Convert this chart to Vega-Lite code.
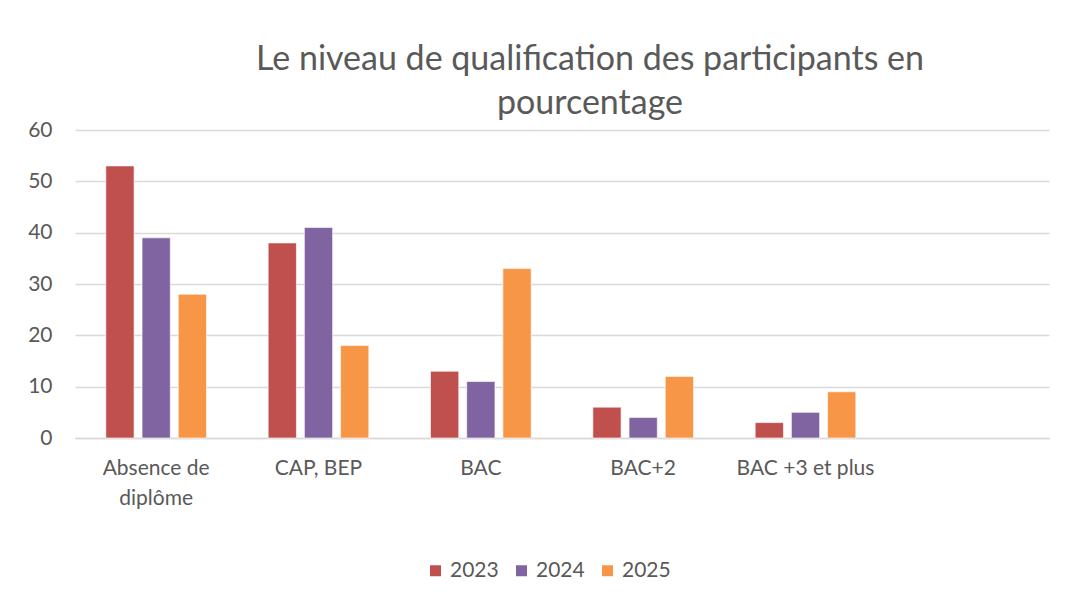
{
  "$schema": "https://vega.github.io/schema/vega-lite/v6.json",
  "autosize": "none",
  "width": 974,
  "height": 308,
  "padding": {"left": 75, "top": 130, "right": 19, "bottom": 163},
  "background": "white",
  "title": {
    "text": ["Le niveau de qualification des participants en", "pourcentage"],
    "font": "Lato",
    "fontSize": 34,
    "fontWeight": "normal",
    "color": "#595959",
    "lineHeight": 44,
    "anchor": "middle",
    "dx": 28,
    "offset": -2
  },
  "data": {
    "values": [
      {"niveau": "Absence de diplôme", "annee": "2023", "pct": 53},
      {"niveau": "Absence de diplôme", "annee": "2024", "pct": 39},
      {"niveau": "Absence de diplôme", "annee": "2025", "pct": 28},
      {"niveau": "CAP, BEP", "annee": "2023", "pct": 38},
      {"niveau": "CAP, BEP", "annee": "2024", "pct": 41},
      {"niveau": "CAP, BEP", "annee": "2025", "pct": 18},
      {"niveau": "BAC", "annee": "2023", "pct": 13},
      {"niveau": "BAC", "annee": "2024", "pct": 11},
      {"niveau": "BAC", "annee": "2025", "pct": 33},
      {"niveau": "BAC+2", "annee": "2023", "pct": 6},
      {"niveau": "BAC+2", "annee": "2024", "pct": 4},
      {"niveau": "BAC+2", "annee": "2025", "pct": 12},
      {"niveau": "BAC +3 et plus", "annee": "2023", "pct": 3},
      {"niveau": "BAC +3 et plus", "annee": "2024", "pct": 5},
      {"niveau": "BAC +3 et plus", "annee": "2025", "pct": 9}
    ]
  },
  "mark": {"type": "bar", "stroke": "#ffffff", "strokeOpacity": 0.6, "strokeWidth": 1},
  "encoding": {
    "x": {
      "field": "niveau",
      "type": "nominal",
      "scale": {
        "domain": ["Absence de diplôme", "CAP, BEP", "BAC", "BAC+2", "BAC +3 et plus", " "],
        "paddingInner": 0.38,
        "paddingOuter": 0.19
      },
      "axis": {
        "title": null,
        "labelAngle": 0,
        "labelExpr": "datum.value == 'Absence de diplôme' ? ['Absence de', 'diplôme'] : datum.value",
        "labelFont": "Lato",
        "labelFontSize": 21,
        "labelColor": "#595959",
        "labelLineHeight": 30,
        "labelPadding": 19,
        "ticks": false,
        "domainColor": "#d9d9d9",
        "domainWidth": 1.5,
        "grid": false
      }
    },
    "xOffset": {
      "field": "annee",
      "type": "nominal",
      "scale": {"paddingInner": 0.22, "paddingOuter": 0}
    },
    "y": {
      "field": "pct",
      "type": "quantitative",
      "scale": {"domain": [0, 60], "nice": false},
      "axis": {
        "title": null,
        "values": [0, 10, 20, 30, 40, 50, 60],
        "labelFont": "Lato",
        "labelFontSize": 21,
        "labelColor": "#595959",
        "labelPadding": 23,
        "ticks": false,
        "domain": false,
        "gridColor": "#d9d9d9",
        "gridWidth": 1.5
      }
    },
    "color": {
      "field": "annee",
      "type": "nominal",
      "scale": {"domain": ["2023", "2024", "2025"], "range": ["#C0504D", "#8064A2", "#F79646"]},
      "legend": {
        "title": null,
        "orient": "none",
        "legendX": 350,
        "legendY": 430,
        "direction": "horizontal",
        "symbolType": "square",
        "symbolSize": 121,
        "symbolStrokeWidth": 0,
        "labelFont": "Lato",
        "labelFontSize": 21,
        "labelColor": "#595959",
        "labelOffset": 4,
        "columnPadding": 12
      }
    }
  },
  "config": {"view": {"stroke": null}}
}
